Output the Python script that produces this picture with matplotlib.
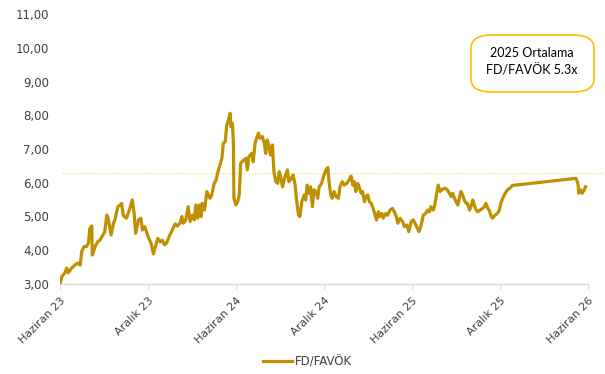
import matplotlib
matplotlib.use("Agg")
import matplotlib.pyplot as plt
import matplotlib.dates as mdates
import pandas as pd
from matplotlib.patches import FancyBboxPatch

# FD/FAVÖK multiple, roughly weekly readings
dates = [
    "2023-06-01", "2023-06-05", "2023-06-11", "2023-06-15", "2023-06-18", "2023-06-25",
    "2023-07-02", "2023-07-08", "2023-07-13", "2023-07-16", "2023-07-21", "2023-07-26",
    "2023-07-30", "2023-08-02", "2023-08-06", "2023-08-07", "2023-08-13", "2023-08-18",
    "2023-08-23", "2023-08-27", "2023-09-02", "2023-09-06", "2023-09-09", "2023-09-15",
    "2023-09-20", "2023-09-23", "2023-09-29", "2023-10-04", "2023-10-07", "2023-10-10",
    "2023-10-17", "2023-10-24", "2023-10-29", "2023-11-02", "2023-11-05", "2023-11-11",
    "2023-11-16", "2023-11-19", "2023-11-24", "2023-12-01", "2023-12-07", "2023-12-12",
    "2023-12-15", "2023-12-21", "2023-12-26", "2023-12-30", "2024-01-04", "2024-01-08",
    "2024-01-15", "2024-01-20", "2024-01-26", "2024-01-30", "2024-02-05", "2024-02-09",
    "2024-02-12", "2024-02-17", "2024-02-22", "2024-02-26", "2024-03-02", "2024-03-06",
    "2024-03-09", "2024-03-13", "2024-03-16", "2024-03-20", "2024-03-22", "2024-03-27",
    "2024-04-01", "2024-04-04", "2024-04-07", "2024-04-11", "2024-04-16", "2024-04-20",
    "2024-04-23", "2024-04-28", "2024-05-02", "2024-05-05", "2024-05-09", "2024-05-12",
    "2024-05-15", "2024-05-19", "2024-05-21", "2024-05-24", "2024-05-26", "2024-05-27",
    "2024-05-31", "2024-06-04", "2024-06-07", "2024-06-10", "2024-06-16", "2024-06-21",
    "2024-06-24", "2024-06-27", "2024-07-03", "2024-07-06", "2024-07-10", "2024-07-13",
    "2024-07-17", "2024-07-20", "2024-07-25", "2024-07-29", "2024-08-01", "2024-08-04",
    "2024-08-08", "2024-08-11", "2024-08-15", "2024-08-18", "2024-08-22", "2024-08-26",
    "2024-08-29", "2024-09-01", "2024-09-05", "2024-09-10", "2024-09-15", "2024-09-18",
    "2024-09-23", "2024-09-27", "2024-10-01", "2024-10-04", "2024-10-08", "2024-10-11",
    "2024-10-15", "2024-10-20", "2024-10-23", "2024-10-26", "2024-10-30", "2024-11-02",
    "2024-11-06", "2024-11-09", "2024-11-13", "2024-11-17", "2024-11-20", "2024-11-25",
    "2024-11-29", "2024-12-04", "2024-12-08", "2024-12-10", "2024-12-14", "2024-12-17",
    "2024-12-21", "2024-12-25", "2024-12-30", "2025-01-02", "2025-01-07", "2025-01-11",
    "2025-01-16", "2025-01-21", "2025-01-25", "2025-01-29", "2025-02-01", "2025-02-04",
    "2025-02-08", "2025-02-11", "2025-02-15", "2025-02-18", "2025-02-22", "2025-02-25",
    "2025-03-01", "2025-03-04", "2025-03-08", "2025-03-12", "2025-03-16", "2025-03-19",
    "2025-03-23", "2025-03-26", "2025-03-30", "2025-04-02", "2025-04-07", "2025-04-11",
    "2025-04-16", "2025-04-21", "2025-04-25", "2025-04-29", "2025-05-02", "2025-05-07",
    "2025-05-12", "2025-05-16", "2025-05-21", "2025-05-25", "2025-05-30", "2025-06-03",
    "2025-06-07", "2025-06-10", "2025-06-15", "2025-06-19", "2025-06-24", "2025-06-29",
    "2025-07-03", "2025-07-07", "2025-07-10", "2025-07-15", "2025-07-18", "2025-07-22",
    "2025-07-25", "2025-07-29", "2025-08-03", "2025-08-08", "2025-08-13", "2025-08-17",
    "2025-08-21", "2025-08-24", "2025-08-28", "2025-08-31", "2025-09-04", "2025-09-07",
    "2025-09-10", "2025-09-14", "2025-09-17", "2025-09-21", "2025-09-24", "2025-09-28",
    "2025-10-01", "2025-10-05", "2025-10-08", "2025-10-12", "2025-10-15", "2025-10-20",
    "2025-10-25", "2025-10-29", "2025-11-01", "2025-11-05", "2025-11-08", "2025-11-12",
    "2025-11-15", "2025-11-20", "2025-11-25", "2025-11-29", "2025-12-02", "2025-12-06",
    "2025-12-11", "2025-12-16", "2025-12-21", "2025-12-26", "2026-05-07", "2026-05-11",
    "2026-05-13", "2026-05-17", "2026-05-20", "2026-05-24", "2026-05-27",
]

fd_favok = [
    3.02, 3.22, 3.33, 3.47, 3.33, 3.47,
    3.56, 3.62, 3.56, 3.96, 4.11, 4.11,
    4.21, 4.65, 4.72, 3.86, 4.11, 4.25,
    4.30, 4.40, 4.55, 5.04, 4.95, 4.45,
    4.80, 4.90, 5.29, 5.34, 5.39, 5.04,
    4.95, 5.24, 5.49, 5.09, 4.50, 4.90,
    4.95, 4.60, 4.70, 4.40, 4.21, 3.89,
    4.06, 4.35, 4.25, 4.30, 4.16, 4.21,
    4.45, 4.60, 4.78, 4.72, 4.80, 5.00,
    4.80, 4.90, 5.29, 4.85, 5.04, 4.90,
    5.34, 4.95, 5.34, 5.00, 5.39, 5.19,
    5.74, 5.64, 5.54, 5.64, 5.98, 6.08,
    6.28, 6.53, 6.72, 7.17, 7.22, 7.71,
    7.81, 8.06, 7.66, 7.76, 7.17, 5.54,
    5.34, 5.44, 5.64, 6.58, 6.67, 6.72,
    6.38, 6.77, 6.87, 6.62, 7.17, 7.32,
    7.47, 7.32, 7.37, 7.17, 6.87, 7.27,
    7.07, 6.82, 7.12, 6.33, 6.03, 5.98,
    6.33, 6.18, 5.88, 6.18, 6.38, 6.03,
    6.13, 6.23, 5.93, 5.49, 5.04, 5.00,
    5.44, 5.64, 5.49, 5.93, 5.69, 5.88,
    5.29, 5.79, 5.74, 5.54, 5.88, 5.98,
    6.18, 6.38, 6.45, 6.08, 5.64, 5.54,
    5.74, 5.59, 5.54, 5.88, 6.03, 5.93,
    5.98, 6.08, 6.20, 5.93, 6.03, 5.74,
    5.98, 5.88, 5.69, 5.74, 5.44, 5.59,
    5.64, 5.44, 5.39, 5.24, 5.04, 4.90,
    5.14, 5.00, 5.09, 4.95, 5.09, 5.04,
    5.19, 5.24, 5.14, 5.00, 4.80, 4.95,
    4.85, 4.70, 4.75, 4.55, 4.85, 4.90,
    4.80, 4.70, 4.55, 4.70, 5.04, 5.09,
    5.19, 5.14, 5.29, 5.19, 5.34, 5.69,
    5.93, 5.74, 5.81, 5.84, 5.79, 5.69,
    5.59, 5.69, 5.54, 5.44, 5.34, 5.54,
    5.74, 5.64, 5.49, 5.39, 5.39, 5.19,
    5.29, 5.49, 5.34, 5.19, 5.14, 5.19,
    5.24, 5.29, 5.39, 5.24, 5.19, 5.00,
    4.95, 5.04, 5.09, 5.19, 5.39, 5.54,
    5.69, 5.79, 5.84, 5.92, 6.13, 5.98,
    5.69, 5.79, 5.69, 5.79, 5.88,
]

ref_level = 6.28
tick_dates = ["2023-06-01", "2023-12-01", "2024-06-01", "2024-12-01",
              "2025-06-01", "2025-12-01", "2026-06-01"]
tick_labels = ["Haziran 23", "Aralık 23", "Haziran 24", "Aralık 24",
               "Haziran 25", "Aralık 25", "Haziran 26"]
y_ticks = [3, 4, 5, 6, 7, 8, 9, 10, 11]
box_text = "2025 Ortalama\nFD/FAVÖK 5.3x"

df = pd.DataFrame({"date": pd.to_datetime(dates), "value": fd_favok})

plt.rcParams["font.family"] = ["DejaVu Sans"]
fig = plt.figure(figsize=(6.05, 3.74), dpi=100)
ax = fig.add_axes([60 / 605, 1 - 284 / 374, 528 / 605, 270 / 374])

ax.plot(df["date"], df["value"], color="#BF9000", linewidth=2.3,
        solid_joinstyle="round", label="FD/FAVÖK", zorder=3)

# reference level, runs out past the plot area
ax.axhline(ref_level, xmin=0.004, xmax=1.032, color="#FFC000", linewidth=0.6,
           linestyle=(0, (2, 1.5)), alpha=0.6, clip_on=False, zorder=2)

ax.set_xlim(pd.Timestamp("2023-06-01"), pd.Timestamp("2026-06-01"))
ax.set_ylim(3, 11)
ax.set_yticks(y_ticks)
ax.set_yticklabels([f"{v:.2f}".replace(".", ",") for v in y_ticks])
ax.set_xticks(pd.to_datetime(tick_dates))
ax.set_xticklabels(tick_labels, rotation=45, ha="right", va="top",
                   rotation_mode="anchor")

for side in ["top", "right", "left"]:
    ax.spines[side].set_visible(False)
ax.spines["bottom"].set_color("#D9D9D9")
ax.spines["bottom"].set_linewidth(1.0)
ax.tick_params(axis="y", length=0, pad=8, labelsize=8.5, labelcolor="#404040")
ax.tick_params(axis="x", length=4, width=0.8, color="#D9D9D9", pad=4,
               labelsize=8, labelcolor="#404040")

# note box in the top right corner
box = FancyBboxPatch((471 / 605, 1 - 92 / 374), 123 / 605, 57 / 374,
                     boxstyle="round,pad=0,rounding_size=0.035",
                     transform=fig.transFigure, facecolor="white",
                     edgecolor="#FFC000", linewidth=1.2, zorder=5)
fig.patches.append(box)
fig.text(532 / 605, 1 - 62 / 374, box_text, ha="center", va="center",
         fontsize=9, family="Lato", color="#000000", linespacing=1.5, zorder=6)

fig.legend(loc="center", bbox_to_anchor=(307 / 605, 1 - 362 / 374), frameon=False,
           fontsize=8.5, handlelength=2.5, handletextpad=0.2,
           labelcolor="#404040")

fig.savefig("out.png", dpi=100)
